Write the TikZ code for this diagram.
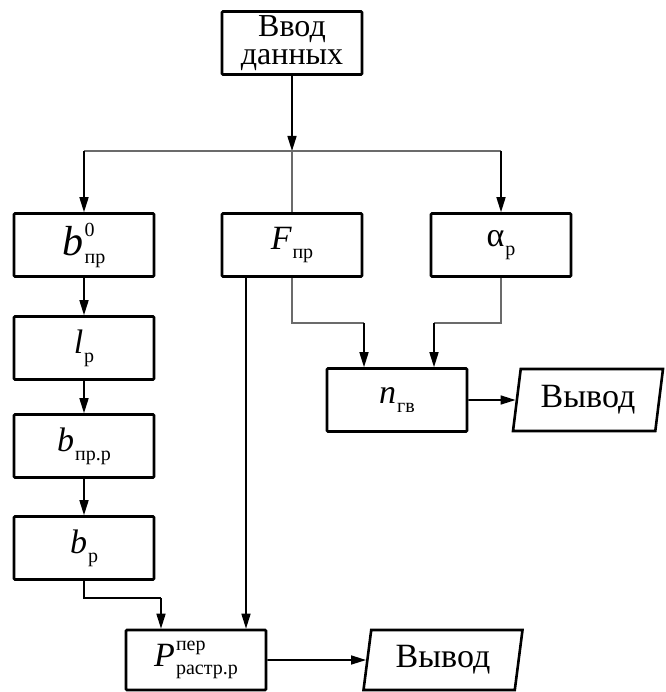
\documentclass[tikz,border=0pt]{standalone}
\usepackage{fontspec}
\setmainfont{Liberation Serif}
\usetikzlibrary{arrows.meta,shapes.geometric}
\newcommand{\sml}{\fontsize{20}{20}\selectfont}
\newcommand{\symb}[5]{{#1}\kern1pt\rlap{\raisebox{#4}{\sml #2}}\raisebox{#5}{\sml #3}}
\newcommand{\symbl}[2]{{#1}\kern1pt\raisebox{-9pt}{\sml #2}}
\tikzset{
  blk/.style={draw, line width=2.6pt, rounded corners=1pt, minimum width=140pt, minimum height=63pt,
    inner sep=0pt, align=center, font=\fontsize{34}{36}\selectfont},
  outp/.style={trapezium, trapezium left angle=75, trapezium right angle=105, trapezium stretches body,
    draw, line width=2.6pt, minimum height=62pt, minimum width=150pt, inner sep=0pt,
    font=\fontsize{34}{36}\selectfont},
  arr/.style={line width=1.6pt, -{Triangle[length=15pt,width=9pt]}},
  ln/.style={line width=1.6pt},
  grln/.style={line width=2.4pt, draw=black!58},
}
\begin{document}
\begin{tikzpicture}[x=1pt,y=-1pt]
\useasboundingbox (0,0) rectangle (665,692);
\node[blk, font=\fontsize{32}{28}\selectfont] (inp) at (292,43) {Ввод\\данных};
\coordinate (br) at (292,151);
\coordinate (brl) at (84,151);
\coordinate (brr) at (501,151);
\node[blk] (bnul) at (84,245) {\symb{\fontsize{42}{42}\selectfont\itshape b}{0}{пр}{19pt}{-8pt}};
\node[blk] (fpr) at (292,245) {\symbl{\itshape F}{пр}};
\node[blk] (alp) at (501,245) {\symbl{α}{р}};
\node[blk] (lp) at (84,348) {\symbl{\itshape l}{р}};
\node[blk] (bprp) at (84,446) {\symbl{\itshape b}{пр.р}};
\node[blk] (bp) at (84,548) {\symbl{\itshape b}{р}};
\node[blk] (ngv) at (397,400) {\symbl{\itshape n}{гв}};
\node[outp] (out1) at (588,400) {Вывод};
\node[blk, minimum height=60pt] (pras) at (196,660) {\symb{\itshape P}{пер}{растр.р}{16pt}{-8pt}};
\node[outp, minimum height=60pt, minimum width=159pt] (out2) at (443,660) {Вывод};
\coordinate (kn1) at (364,323);
\coordinate (kn2) at (434,323);
\coordinate (kn3) at (161,598);
\draw[arr] (inp) -- (br);
\draw[grln] (brl) -- (brr);
\draw[arr] (brl) -- (bnul);
\draw[arr] (brr) -- (alp);
\draw[grln] (br) -- (fpr);
\draw[arr] (bnul) -- (lp);
\draw[arr] (lp) -- (bprp);
\draw[arr] (bprp) -- (bp);
\draw[arr] ([xshift=-46pt]fpr.south) -- ([xshift=-46pt]fpr.south |- pras.north);
\draw[grln] (fpr.south) |- (kn1);
\draw[arr] (kn1) -- (kn1 |- ngv.north);
\draw[grln] (alp.south) |- (kn2);
\draw[arr] (kn2) -- (kn2 |- ngv.north);
\draw[ln] (bp.south) |- (kn3);
\draw[arr] (kn3) -- (kn3 |- pras.north);
\draw[arr] (ngv) -- (out1);
\draw[arr] (pras) -- (out2);
\end{tikzpicture}
\end{document}
